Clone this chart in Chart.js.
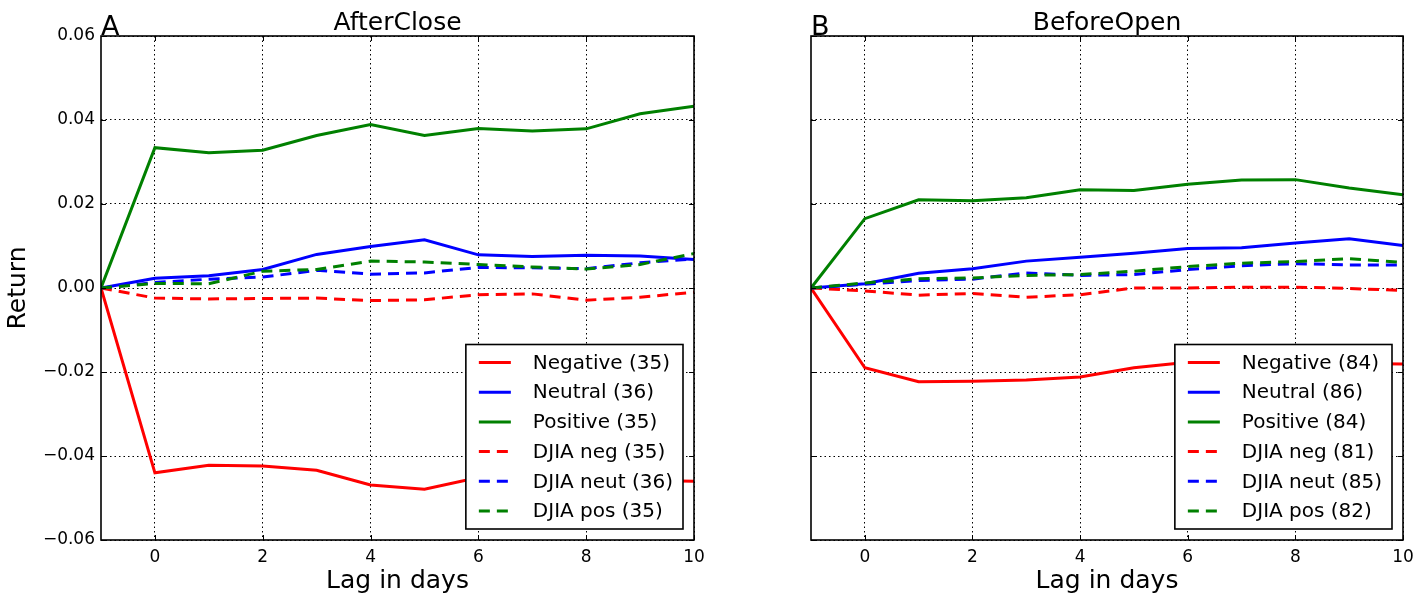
<!DOCTYPE html>
<html>
<head>
<meta charset="utf-8">
<script src="https://cdn.jsdelivr.net/npm/chart.js@4.4.1/dist/chart.umd.min.js"></script>
<style>
  html, body { margin: 0; padding: 0; background: #fff; }
  .panel { position: absolute; top: 0; width: 712px; height: 598px; }
  #panelA { left: 0; }
  #panelB { left: 712px; }
</style>
</head>
<body>
<div class="panel" id="panelA"><canvas id="chartA"></canvas></div>
<div class="panel" id="panelB"><canvas id="chartB"></canvas></div>
<script>
// lag in days, from -1 up to 10
const lags = [-1, 0, 1, 2, 3, 4, 5, 6, 7, 8, 9, 10];
const xTicks = [0, 2, 4, 6, 8, 10];
const yTicks = [-0.06, -0.04, -0.02, 0, 0.02, 0.04, 0.06];

const seriesNames = ["Negative", "Neutral", "Positive", "DJIA neg", "DJIA neut", "DJIA pos"];
const countsAfterClose = [35, 36, 35, 35, 36, 35];
const countsBeforeOpen = [84, 86, 84, 81, 85, 82];

// AfterClose
const negA = [0, -0.0440, -0.0422, -0.0424, -0.0434, -0.0469, -0.0479, -0.0451, -0.0455, -0.0460, -0.0458, -0.0460];
const neuA = [0, 0.0023, 0.0029, 0.0044, 0.0080, 0.0099, 0.0115, 0.0079, 0.0075, 0.0078, 0.0076, 0.0068];
const posA = [0, 0.0334, 0.0322, 0.0328, 0.0363, 0.0389, 0.0363, 0.0380, 0.0374, 0.0379, 0.0415, 0.0433];
const djNegA = [0, -0.0024, -0.0026, -0.0025, -0.0024, -0.0030, -0.0028, -0.0016, -0.0014, -0.0029, -0.0022, -0.0010];
const djNeuA = [0, 0.0013, 0.0021, 0.0026, 0.0042, 0.0033, 0.0036, 0.0049, 0.0048, 0.0046, 0.0060, 0.0069];
const djPosA = [0, 0.0011, 0.0010, 0.0040, 0.0044, 0.0064, 0.0062, 0.0056, 0.0050, 0.0045, 0.0056, 0.0082];

// BeforeOpen
const negB = [0, -0.0190, -0.0223, -0.0222, -0.0219, -0.0212, -0.0190, -0.0177, -0.0178, -0.0176, -0.0180, -0.0181];
const neuB = [0, 0.0010, 0.0035, 0.0046, 0.0064, 0.0073, 0.0083, 0.0094, 0.0096, 0.0107, 0.0117, 0.0101];
const posB = [0, 0.0165, 0.0210, 0.0208, 0.0215, 0.0234, 0.0232, 0.0247, 0.0257, 0.0258, 0.0238, 0.0222];
const djNegB = [0, -0.0007, -0.0017, -0.0013, -0.0022, -0.0016, 0.0000, 0.0000, 0.0002, 0.0002, -0.0001, -0.0006];
const djNeuB = [0, 0.0009, 0.0018, 0.0021, 0.0036, 0.0030, 0.0032, 0.0044, 0.0053, 0.0058, 0.0055, 0.0055];
const djPosB = [0, 0.0012, 0.0022, 0.0024, 0.0030, 0.0032, 0.0040, 0.0051, 0.0059, 0.0063, 0.0070, 0.0061];

const colors = ["#ff0000", "#0000ff", "#008000", "#ff0000", "#0000ff", "#008000"];
const FONT = "'DejaVu Sans', sans-serif";

// box around plot area plus matplotlib style inward ticks
const frameBox = {
    id: "frameBox",
    afterDraw(chart) {
        const { ctx, chartArea, scales } = chart;
        const { left, right, top, bottom } = chartArea;
        ctx.save();
        ctx.strokeStyle = "#000";
        ctx.lineWidth = 1;
        ctx.beginPath();
        xTicks.forEach(v => {
            const px = Math.round(scales.x.getPixelForValue(v)) + 0.5;
            ctx.moveTo(px, bottom); ctx.lineTo(px, bottom - 5);
            ctx.moveTo(px, top); ctx.lineTo(px, top + 5);
        });
        yTicks.forEach(v => {
            const py = Math.round(scales.y.getPixelForValue(v)) + 0.5;
            ctx.moveTo(left, py); ctx.lineTo(left + 5, py);
            ctx.moveTo(right, py); ctx.lineTo(right - 5, py);
        });
        ctx.stroke();
        ctx.lineWidth = 1.6;
        ctx.strokeRect(left, top, right - left, bottom - top);
        ctx.restore();
    }
};

// legend box in the lower right corner of the plot
const innerLegend = {
    id: "innerLegend",
    afterDraw(chart) {
        const { ctx, chartArea } = chart;
        const sets = chart.data.datasets;
        ctx.save();
        ctx.font = "20px " + FONT;
        const maxW = Math.max(...sets.map(d => ctx.measureText(d.label).width));
        const rowH = 29.7;
        const w = 13 + 32 + 22 + maxW + 10;
        const h = 18 * 2 + rowH * (sets.length - 1);
        const x0 = chartArea.right - 11 - w;
        const y0 = chartArea.bottom - 11 - h;
        ctx.fillStyle = "#fff";
        ctx.fillRect(x0, y0, w, h);
        ctx.strokeStyle = "#000";
        ctx.lineWidth = 1.6;
        ctx.strokeRect(x0, y0, w, h);
        sets.forEach((d, i) => {
            const cy = y0 + 18 + i * rowH;
            ctx.strokeStyle = d.borderColor;
            ctx.lineWidth = 3;
            ctx.setLineDash(d.borderDash || []);
            ctx.beginPath();
            ctx.moveTo(x0 + 13, cy);
            ctx.lineTo(x0 + 45, cy);
            ctx.stroke();
            ctx.setLineDash([]);
            ctx.fillStyle = "#000";
            ctx.textBaseline = "middle";
            ctx.textAlign = "left";
            ctx.fillText(d.label, x0 + 67, cy + 1);
        });
        ctx.restore();
    }
};

// panel title and letter
const panelText = {
    id: "panelText",
    afterDraw(chart, args, opts) {
        const { ctx, chartArea } = chart;
        ctx.save();
        ctx.fillStyle = "#000";
        ctx.textBaseline = "alphabetic";
        ctx.textAlign = "center";
        ctx.font = "25px " + FONT;
        ctx.fillText(opts.title, (chartArea.left + chartArea.right) / 2, 30);
        ctx.textAlign = "left";
        ctx.font = "27px " + FONT;
        ctx.fillText(opts.letter, chartArea.left, 35);
        ctx.restore();
    }
};

function buildDatasets(series, counts) {
    return series.map((values, i) => ({
        label: `${seriesNames[i]} (${counts[i]})`,
        data: lags.map((x, j) => ({ x, y: values[j] })),
        borderColor: colors[i],
        borderWidth: 3,
        borderDash: i >= 3 ? [11, 7] : [],
        pointRadius: 0,
        tension: 0,
        fill: false,
        order: 5 - i
    }));
}

function buildChart(canvasId, series, counts, title, letter, showY, padRight, yWidth) {
    return new Chart(document.getElementById(canvasId), {
        type: "line",
        data: { datasets: buildDatasets(series, counts) },
        plugins: [frameBox, innerLegend, panelText],
        options: {
            responsive: true,
            maintainAspectRatio: false,
            animation: false,
            layout: { padding: { top: 36, right: padRight, bottom: 0, left: 0 } },
            plugins: {
                legend: { display: false },
                title: { display: false },
                tooltip: { enabled: false },
                panelText: { title, letter }
            },
            scales: {
                x: {
                    type: "linear",
                    min: -1,
                    max: 10,
                    afterBuildTicks: axis => { axis.ticks = xTicks.map(v => ({ value: v })); },
                    afterFit: scale => { scale.height = 58; },
                    grid: { color: "#000", lineWidth: 1, drawTicks: false },
                    border: { display: false, dash: [1.5, 3] },
                    ticks: {
                        color: "#000",
                        padding: 7,
                        maxRotation: 0,
                        font: { family: FONT, size: 17 },
                        callback: v => String(v)
                    },
                    title: {
                        display: true,
                        text: "Lag in days",
                        color: "#000",
                        font: { family: FONT, size: 25, lineHeight: 1.2 },
                        padding: { top: 0, bottom: 2 }
                    }
                },
                y: {
                    type: "linear",
                    min: -0.06,
                    max: 0.06,
                    afterBuildTicks: axis => { axis.ticks = yTicks.map(v => ({ value: v })); },
                    afterFit: scale => { scale.width = yWidth; },
                    grid: { color: "#000", lineWidth: 1, drawTicks: false },
                    border: { display: false, dash: [1.5, 3] },
                    ticks: {
                        display: showY,
                        color: "#000",
                        padding: 6,
                        font: { family: FONT, size: 17 },
                        callback: v => (v < -1e-9 ? "\u2212" : "") + Math.abs(v).toFixed(2)
                    },
                    title: {
                        display: showY,
                        text: "Return",
                        color: "#000",
                        font: { family: FONT, size: 25, lineHeight: 1.2 },
                        padding: { top: 3, bottom: 3 }
                    }
                }
            }
        }
    });
}

buildChart("chartA", [negA, neuA, posA, djNegA, djNeuA, djPosA], countsAfterClose,
    "AfterClose", "A", true, 18, 101);
buildChart("chartB", [negB, neuB, posB, djNegB, djNeuB, djPosB], countsBeforeOpen,
    "BeforeOpen", "B", false, 21, 99);
</script>
</body>
</html>
